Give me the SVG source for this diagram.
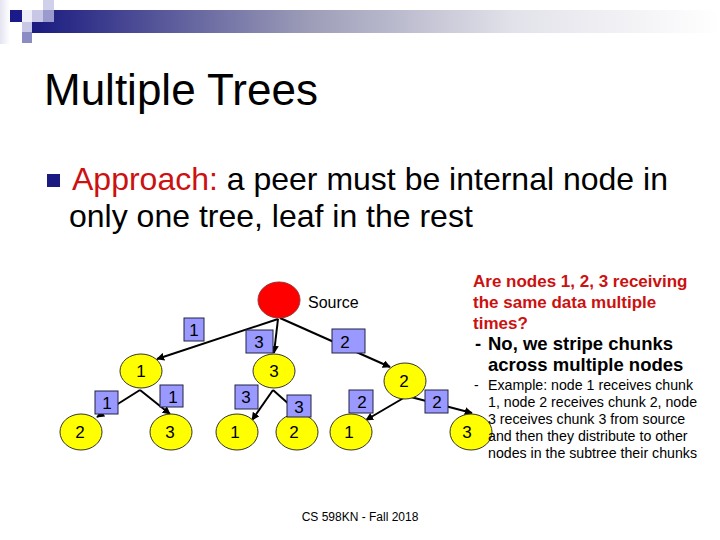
<svg xmlns="http://www.w3.org/2000/svg" width="720" height="540" viewBox="0 0 720 540">
<defs>
<linearGradient id="bar" x1="0" y1="0" x2="1" y2="0">
<stop offset="0" stop-color="#1a1a80"/>
<stop offset="0.4" stop-color="#9c9cb8"/>
<stop offset="0.7" stop-color="#e2e2ea"/>
<stop offset="1" stop-color="#ffffff"/>
</linearGradient>
<linearGradient id="side" x1="0" y1="0" x2="1" y2="0">
<stop offset="0" stop-color="#e4e4f2"/>
<stop offset="1" stop-color="#ffffff"/>
</linearGradient>
<marker id="arr" viewBox="0 0 10 10" refX="9" refY="5" markerWidth="4" markerHeight="4" orient="auto" markerUnits="strokeWidth">
<path d="M0,0 L10,5 L0,10 z" fill="#000"/>
</marker>
<style>
.t{font-family:"Liberation Sans",Arial,sans-serif}
.node{fill:#ffff00;stroke:#333;stroke-width:1}
.lbl{font-family:"Liberation Sans",Arial,sans-serif;font-size:17px;text-anchor:middle;fill:#000}
.box{fill:#9999ff;stroke:#222244;stroke-width:1}
.edge{stroke:#000;stroke-width:2;fill:none;marker-end:url(#arr)}
</style>
</defs>
<rect width="720" height="540" fill="#fff"/>
<!-- header decoration -->
<rect x="0" y="0" width="10" height="44" fill="url(#side)"/>
<rect x="32" y="10" width="688" height="23" fill="url(#bar)"/>
<rect x="10" y="10" width="12" height="12" fill="#1a1a8a"/>
<rect x="22" y="10" width="10" height="12" fill="#eeeef8"/>
<rect x="32" y="10" width="11" height="12" fill="#c8c8e6"/>
<rect x="43" y="0" width="11" height="10" fill="#d0d0ea"/>
<rect x="43" y="10" width="11" height="12" fill="#9a9acf"/>
<rect x="22" y="22" width="10" height="10" fill="#c8c8e6"/>
<rect x="22" y="32" width="10" height="11" fill="#8c8cc4"/>
<!-- title -->
<text class="t" x="44" y="105" font-size="44" fill="#000">Multiple Trees</text>
<rect x="47" y="174" width="13" height="13" fill="#1a1a80"/>
<text class="t" x="72" y="190" font-size="32"><tspan fill="#cc1111">Approach:</tspan><tspan fill="#000"> a peer must be internal node in</tspan></text>
<text class="t" x="69" y="227" font-size="32" fill="#000">only one tree, leaf in the rest</text>
<!-- connectors -->
<g id="connectors">
<line class="edge" x1="278" y1="319" x2="157" y2="359"/>
<line class="edge" x1="278" y1="319" x2="274" y2="353"/>
<line class="edge" x1="280" y1="318" x2="390" y2="367"/>
<line class="edge" x1="140" y1="390" x2="97" y2="417"/>
<line class="edge" x1="140" y1="390" x2="170" y2="414"/>
<line class="edge" x1="273" y1="390" x2="252" y2="420"/>
<line class="edge" x1="273" y1="390" x2="300" y2="414"/>
<line class="edge" x1="407" y1="396" x2="366" y2="420"/>
<line class="edge" x1="407" y1="396" x2="472" y2="413"/>
</g>
<!-- nodes -->
<g id="source">
<ellipse cx="279" cy="300" rx="21" ry="18" fill="#ff0000" stroke="#993333" stroke-width="1"/>
<text class="t" x="308" y="308" font-size="16">Source</text>
</g>
<g id="n1"><ellipse class="node" cx="141" cy="371" rx="21" ry="17"/><text class="lbl" x="141" y="377">1</text></g>
<g id="n3"><ellipse class="node" cx="274" cy="371" rx="21" ry="17"/><text class="lbl" x="274" y="377">3</text></g>
<g id="n2"><ellipse class="node" cx="405" cy="381" rx="21" ry="18"/><text class="lbl" x="404" y="387">2</text></g>
<g id="l1-2"><ellipse class="node" cx="81" cy="432" rx="21" ry="18"/><text class="lbl" x="80" y="438">2</text></g>
<g id="l1-3"><ellipse class="node" cx="171" cy="432" rx="21" ry="18"/><text class="lbl" x="170" y="438">3</text></g>
<g id="l3-1"><ellipse class="node" cx="237" cy="432" rx="21" ry="18"/><text class="lbl" x="235" y="438">1</text></g>
<g id="l3-2"><ellipse class="node" cx="297" cy="432" rx="21" ry="18"/><text class="lbl" x="294" y="438">2</text></g>
<g id="l2-1"><ellipse class="node" cx="351" cy="432" rx="21" ry="18"/><text class="lbl" x="349" y="438">1</text></g>
<g id="l2-3"><ellipse class="node" cx="471" cy="432" rx="21" ry="18"/><text class="lbl" x="467" y="438">3</text></g>
<!-- edge labels -->
<g id="edge-labels">
<rect class="box" x="184" y="318" width="20" height="23"/><text class="lbl" x="194" y="336">1</text>
<rect class="box" x="246" y="330" width="27" height="23"/><text class="lbl" x="259" y="348">3</text>
<rect class="box" x="332" y="329" width="33" height="24"/><text class="lbl" x="345" y="348">2</text>
<rect class="box" x="95" y="391" width="23" height="23"/><text class="lbl" x="107" y="409">1</text>
<rect class="box" x="160" y="385" width="23" height="22"/><text class="lbl" x="173" y="403">1</text>
<rect class="box" x="235" y="385" width="23" height="24"/><text class="lbl" x="246" y="403">3</text>
<rect class="box" x="287" y="395" width="24" height="22"/><text class="lbl" x="299" y="413">3</text>
<rect class="box" x="349" y="390" width="24" height="23"/><text class="lbl" x="362" y="408">2</text>
<rect class="box" x="425" y="390" width="23" height="23"/><text class="lbl" x="437" y="408">2</text>
</g>
<!-- right text -->
<g class="t">
<text x="473" y="287" font-size="17" font-weight="bold" fill="#cc1111">Are nodes 1, 2, 3 receiving</text>
<text x="473" y="308" font-size="17" font-weight="bold" fill="#cc1111">the same data multiple</text>
<text x="473" y="329" font-size="17" font-weight="bold" fill="#cc1111">times?</text>
<text x="475" y="350" font-size="18.5" font-weight="bold" fill="#000">-</text>
<text x="488" y="350" font-size="18.5" font-weight="bold" fill="#000">No, we stripe chunks</text>
<text x="488" y="371" font-size="18.5" font-weight="bold" fill="#000">across multiple nodes</text>
<text x="474" y="390" font-size="14" fill="#000">-</text>
<text x="488" y="390" font-size="14.2" fill="#000">Example: node 1 receives chunk</text>
<text x="488" y="407" font-size="14.2" fill="#000">1, node 2 receives chunk 2, node</text>
<text x="488" y="424" font-size="14.2" fill="#000">3 receives chunk 3 from source</text>
<text x="488" y="441" font-size="14.2" fill="#000">and then they distribute to other</text>
<text x="488" y="458" font-size="14.2" fill="#000">nodes in the subtree their chunks</text>
</g>
<text class="t" x="360" y="521" font-size="12" text-anchor="middle" fill="#000">CS 598KN - Fall 2018</text>
</svg>
